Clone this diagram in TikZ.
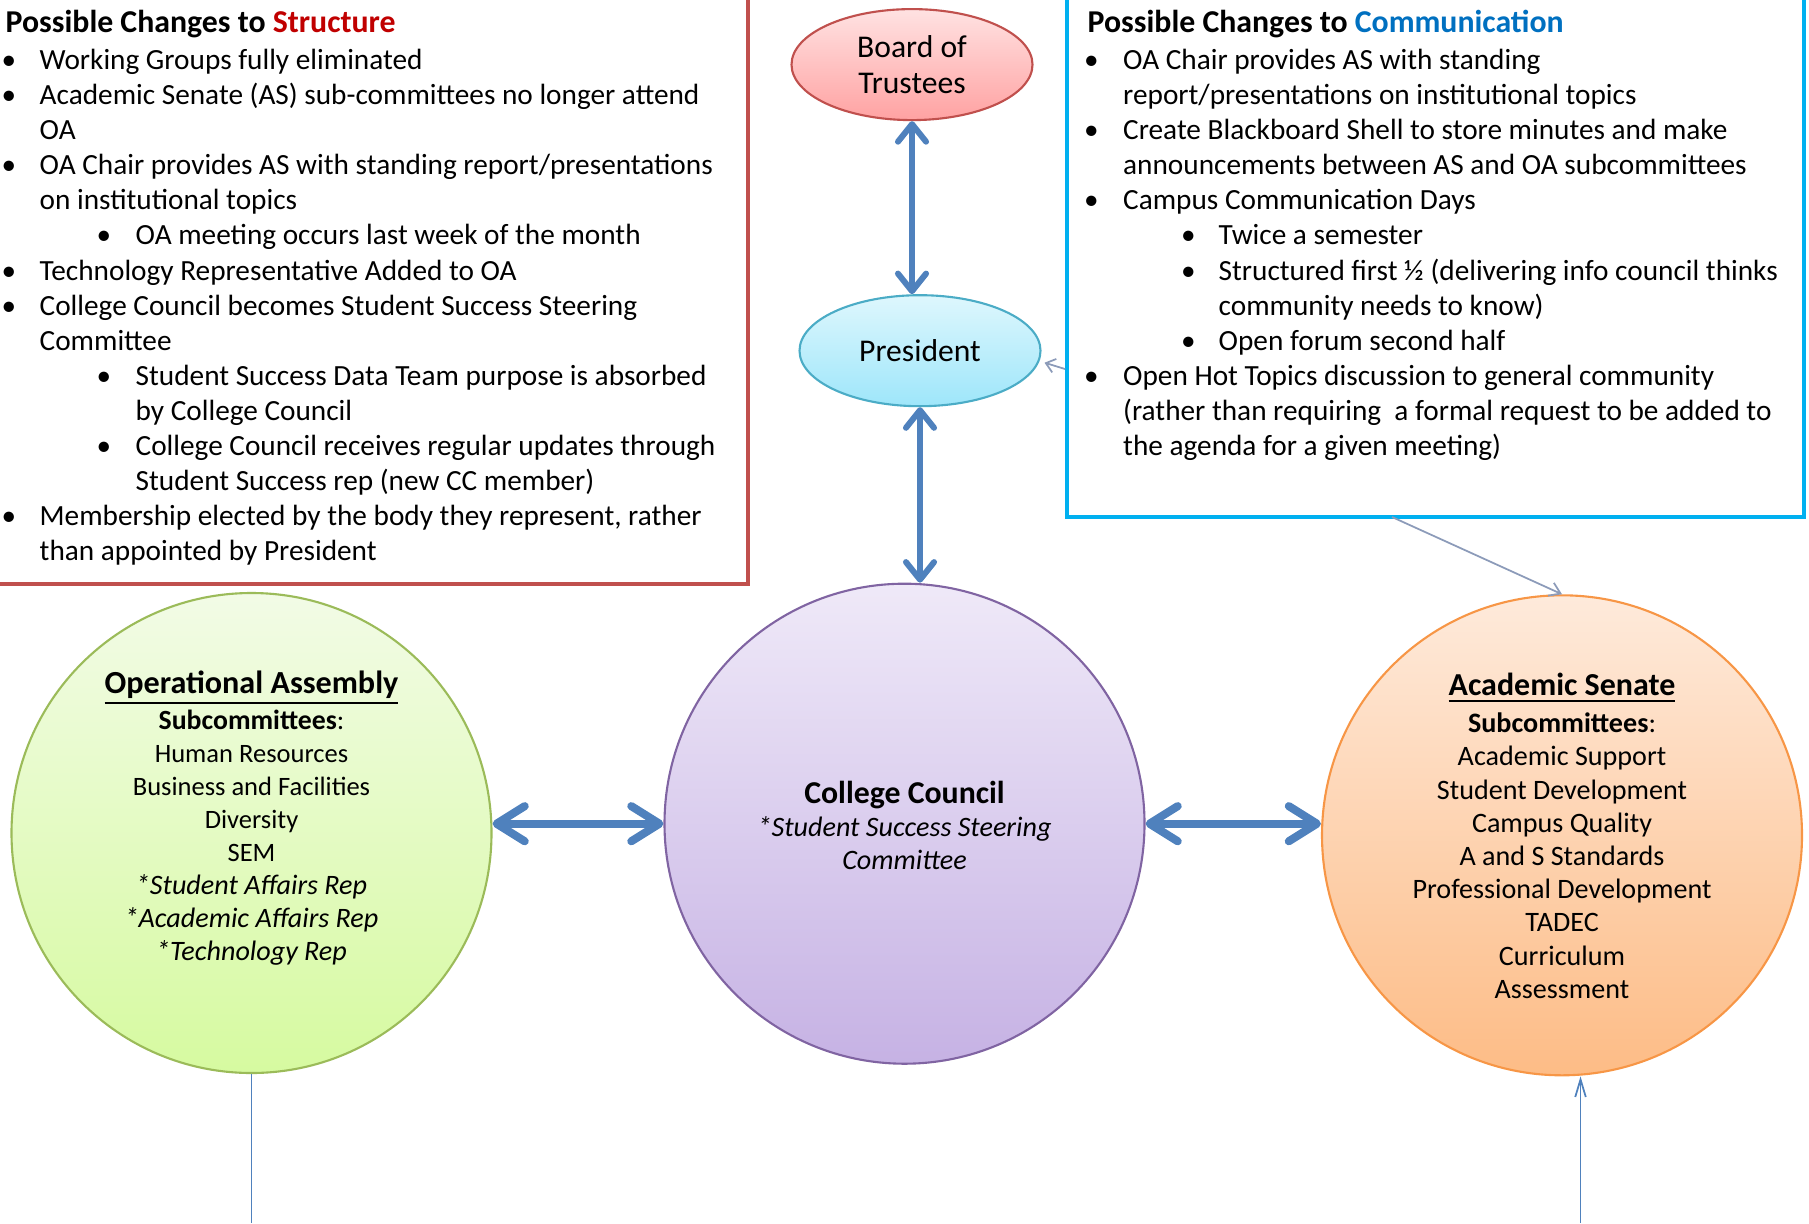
\documentclass[tikz,border=0pt]{standalone}
\usepackage{fontspec}
\setmainfont{Carlito}
\usetikzlibrary{shapes.geometric,arrows.meta}
\definecolor{structred}{RGB}{192,80,77}
\definecolor{titlered}{RGB}{192,0,0}
\definecolor{commcyan}{RGB}{0,176,240}
\definecolor{titleblue}{RGB}{0,112,192}
\definecolor{linkblue}{RGB}{79,129,189}
\definecolor{thingray}{RGB}{140,155,185}
\definecolor{presborder}{RGB}{75,172,198}
\definecolor{oagreen}{RGB}{155,187,89}
\definecolor{ccpurple}{RGB}{128,100,162}
\definecolor{asorange}{RGB}{247,150,70}
\definecolor{boardtop}{RGB}{255,226,226}
\definecolor{boardbot}{RGB}{255,162,162}
\definecolor{prestop}{RGB}{222,247,253}
\definecolor{presbot}{RGB}{158,230,250}
\definecolor{oatop}{RGB}{242,251,230}
\definecolor{oabot}{RGB}{214,250,160}
\definecolor{cctop}{RGB}{239,233,248}
\definecolor{ccbot}{RGB}{198,178,228}
\definecolor{astop}{RGB}{254,234,219}
\definecolor{asbot}{RGB}{253,188,134}

\begin{document}
\begin{tikzpicture}[x=0.1mm, y=-0.1mm,
    listtext/.style={anchor=base west, inner sep=0pt, align=left, font=\fontsize{8.33}{9.98}\selectfont},
    listdot/.style={anchor=base, inner sep=0pt, font=\fontsize{8.3}{9.98}\selectfont},
    boxtitle/.style={anchor=base west, inner sep=0pt, font=\fontsize{9.05}{10}\selectfont\bfseries},
    oval/.style={ellipse, draw, line width=0.6pt, inner sep=0pt, minimum width=24.1mm, minimum height=11.1mm, align=center, font=\fontsize{9}{10.5}\selectfont},
    body/.style={circle, draw, line width=0.6pt, minimum size=48mm, inner sep=0pt},
    bodytext/.style={align=center, inner sep=0pt, font=\fontsize{7.8}{9.4}\selectfont},
    link/.style={linkblue, line width=1.7pt, {Straight Barb[length=5pt,width=8pt,round]}-{Straight Barb[length=5pt,width=8pt,round]}},
    widelink/.style={linkblue, line width=2.3pt, {Straight Barb[length=8pt,width=10pt,round]}-{Straight Barb[length=8pt,width=10pt,round]}},
    thinlink/.style={thingray, line width=0.5pt}
]
    \useasboundingbox (0,0) rectangle (1809,1223);

    % Cadre Structure
    \draw[structred, line width=1.2pt] (-20,-20) rectangle (748,584);
    \node[boxtitle] (stitle) at (5,33) {Possible Changes to \textcolor{titlered}{Structure}};
    \foreach \n/\y in {1/69.5,2/104.6,3/174.8,4/280.1,5/315.2,6/525.8}
        \node[listdot] (sdot\n) at (9,\y) {\textbullet};
    \foreach \n/\y in {1/245.0,2/385.4,3/455.6}
        \node[listdot] (ssub\n) at (104,\y) {\textbullet};
    \node[listtext] (s1) at (39,69.5) {Working Groups fully eliminated};
    \node[listtext] (s2) at (39,139.7) {Academic Senate (AS) sub-committees no longer attend\\OA};
    \node[listtext] (s3) at (39,209.9) {OA Chair provides AS with standing report/presentations\\on institutional topics};
    \node[listtext] (s3a) at (135,245.0) {OA meeting occurs last week of the month};
    \node[listtext] (s4) at (39,280.1) {Technology Representative Added to OA};
    \node[listtext] (s5) at (39,350.3) {College Council becomes Student Success Steering\\Committee};
    \node[listtext] (s5a) at (135,420.5) {Student Success Data Team purpose is absorbed\\by College Council};
    \node[listtext] (s5b) at (135,490.7) {College Council receives regular updates through\\Student Success rep (new CC member)};
    \node[listtext] (s6) at (39,560.9) {Membership elected by the body they represent, rather\\than appointed by President};

    % Cadre Communication
    \draw[commcyan, line width=1.3pt] (1067,-20) rectangle (1804,517);
    \coordinate (commfoot) at (1392,517);
    \coordinate (commside) at (1065,369);
    \node[boxtitle] (ctitle) at (1087,33) {Possible Changes to \textcolor{titleblue}{Communication}};
    \foreach \n/\y in {1/69.5,2/139.7,3/209.9,4/385.4}
        \node[listdot] (cdot\n) at (1091.4,\y) {\textbullet};
    \foreach \n/\y in {1/245.0,2/280.1,3/350.3}
        \node[listdot] (csub\n) at (1188.3,\y) {\textbullet};
    \node[listtext] (c1) at (1122.5,104.6) {OA Chair provides AS with standing\\report/presentations on institutional topics};
    \node[listtext] (c2) at (1122.5,174.8) {Create Blackboard Shell to store minutes and make\\announcements between AS and OA subcommittees};
    \node[listtext] (c3) at (1122.5,209.9) {Campus Communication Days};
    \node[listtext] (c3a) at (1218,245.0) {Twice a semester};
    \node[listtext] (c3b) at (1218,315.2) {Structured first ½ (delivering info council thinks\\community needs to know)};
    \node[listtext] (c3c) at (1218,350.3) {Open forum second half};
    \node[listtext] (c4) at (1122.5,455.6) {Open Hot Topics discussion to general community\\(rather than requiring\ \ a formal request to be added to\\the agenda for a given meeting)};

    % Board et President
    \node[oval, draw=structred, top color=boardtop, bottom color=boardbot] (board) at (912,64.6) {Board of\\Trustees};
    \node[oval, draw=presborder, top color=prestop, bottom color=presbot] (pres) at (920,350.7) {President};

    % Cercles
    \node[body, draw=oagreen, top color=oatop, bottom color=oabot] (oa) at (251.5,833) {};
    \node[body, draw=ccpurple, top color=cctop, bottom color=ccbot] (cc) at (904.5,823.7) {};
    \node[body, draw=asorange, top color=astop, bottom color=asbot] (as) at (1562,835.3) {};

    \node[bodytext] (oatext) at (251.5,818) {{\fontsize{9.15}{10}\selectfont\bfseries\underline{Operational Assembly}}\\[1pt]
        {\fontsize{7.9}{9.4}\selectfont\textbf{Subcommittees}:}\\
        {\fontsize{7.55}{9.4}\selectfont Human Resources}\\{\fontsize{7.55}{9.4}\selectfont Business and Facilities}\\
        {\fontsize{7.55}{9.4}\selectfont Diversity}\\{\fontsize{7.55}{9.4}\selectfont SEM}\\
        {\fontsize{8}{9.4}\selectfont\itshape *Student Affairs Rep}\\{\fontsize{8}{9.4}\selectfont\itshape *Academic Affairs Rep}\\
        {\fontsize{8}{9.4}\selectfont\itshape *Technology Rep}};
    \node[bodytext] (cctext) at (904.5,825) {{\fontsize{9.05}{10}\selectfont\bfseries College Council}\\
        {\fontsize{8}{9.4}\selectfont\itshape *Student Success Steering}\\{\fontsize{8}{9.4}\selectfont\itshape Committee}};
    \node[bodytext, font=\fontsize{8}{9.45}\selectfont] (astext) at (1562,836) {{\fontsize{9.1}{10}\selectfont\bfseries\underline{Academic Senate}}\\[1pt]
        \textbf{Subcommittees}:\\Academic Support\\Student Development\\Campus Quality\\A and S Standards\\
        Professional Development\\TADEC\\Curriculum\\Assessment};

    % Liaisons
    \draw[link] (board.south) -- (board.south |- pres.north);
    \draw[link] (pres.south) -- (pres.south |- cc.north);
    \draw[widelink] (cc.west -| oa.east) -- (cc.west);
    \draw[widelink] (cc.east) -- (cc.east -| as.west);
    \draw[thinlink, -{Straight Barb[length=3pt,width=4pt]}] (commfoot) -- (as.north);
    \draw[thinlink, -{Straight Barb[length=2.5pt,width=4pt]}, shorten >=1.5pt] (commside) -- (pres.-5);

    % Lignes du bas
    \coordinate (oafoot) at (251.5,1223);
    \coordinate (asfoot) at (1580.5,1223);
    \draw[linkblue, line width=0.4pt] (oa.south) -- (oafoot);
    \draw[linkblue, line width=0.5pt, -{Straight Barb[length=5pt,width=3pt]}] (asfoot) -- (asfoot |- as.south);
\end{tikzpicture}
\end{document}
